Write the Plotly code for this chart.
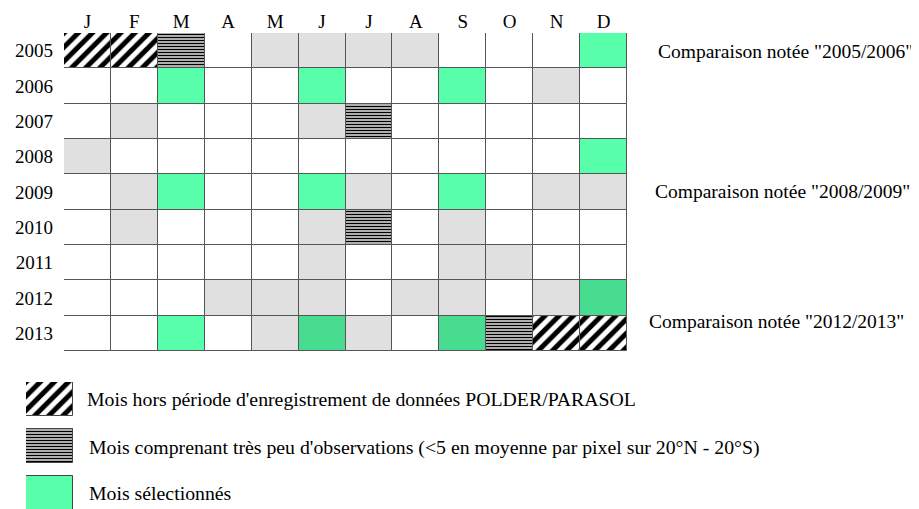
import plotly.graph_objects as go

# The page body has an 8px default margin; the figure is sized/offset to fill the window.
OFF = 8
W, H = 919 - OFF, 509 - OFF

months = ["J", "F", "M", "A", "M", "J", "J", "A", "S", "O", "N", "D"]
years = ["2005", "2006", "2007", "2008", "2009", "2010", "2011", "2012", "2013"]

# Cell status per year (one row per year, one value per month)
# 0 = normal, 1 = grey, 2 = selected, 3 = outside POLDER/PARASOL period,
# 4 = very few observations, 5 = selected (darker)
status = [
    [3, 3, 4, 0, 1, 1, 1, 1, 0, 0, 0, 2],  # 2005
    [0, 0, 2, 0, 0, 2, 0, 0, 2, 0, 1, 0],  # 2006
    [0, 1, 0, 0, 0, 1, 4, 0, 0, 0, 0, 0],  # 2007
    [1, 0, 0, 0, 0, 0, 0, 0, 0, 0, 0, 2],  # 2008
    [0, 1, 2, 0, 0, 2, 1, 0, 2, 0, 1, 1],  # 2009
    [0, 1, 0, 0, 0, 1, 4, 0, 1, 0, 0, 0],  # 2010
    [0, 0, 0, 0, 0, 1, 0, 0, 1, 1, 0, 0],  # 2011
    [0, 0, 0, 1, 1, 1, 0, 1, 1, 0, 1, 5],  # 2012
    [0, 0, 2, 0, 1, 5, 1, 0, 5, 4, 3, 3],  # 2013
]

comparisons = ['Comparaison notée "2005/2006"', 'Comparaison notée "2008/2009"',
               'Comparaison notée "2012/2013"']
legend_labels = [
    "Mois hors période d'enregistrement de données POLDER/PARASOL",
    "Mois comprenant très peu d'observations (<5 en moyenne par pixel sur 20°N - 20°S)",
    "Mois sélectionnés",
]
legend_codes = [3, 4, 2]

GREEN = "#58FFAA"
DKGREEN = "#48DC90"
GREY = "#E0E0E0"
LINE = "#555555"

styles = {
    0: dict(color="white"),
    1: dict(color=GREY),
    2: dict(color=GREEN),
    5: dict(color=DKGREEN),
    3: dict(color="white", pattern=dict(shape="/", fgcolor="black", bgcolor="white",
                                        size=10, solidity=0.5, fillmode="replace",
                                        fgopacity=1)),
    4: dict(color="white", pattern=dict(shape="-", fgcolor="black", bgcolor="#e8e8e8",
                                        size=3, solidity=0.5, fillmode="replace",
                                        fgopacity=1)),
}

fig = go.Figure()

for code in [0, 1, 2, 5, 3, 4]:
    xs, bases = [], []
    for r, row in enumerate(status):
        for c, v in enumerate(row):
            if v == code:
                xs.append(c)
                bases.append(r - 0.5)
    if not xs:
        continue
    fig.add_trace(go.Bar(
        x=xs, y=[1] * len(xs), base=bases, width=1,
        marker=dict(**styles[code], line=dict(color=LINE, width=1)),
        showlegend=False, hoverinfo="skip", xaxis="x", yaxis="y"))

# legend icons
icon_h = 34 / 47
for i, code in enumerate(legend_codes):
    fig.add_trace(go.Bar(
        x=[0], y=[icon_h], base=[i], width=1,
        marker=dict(**styles[code], line=dict(color="#444444", width=1)),
        showlegend=False, hoverinfo="skip", xaxis="x2", yaxis="y2"))


def px_x(p):
    return (p - OFF) / W


def px_y(p):
    return 1 - (p - OFF) / H


fig.update_layout(
    width=W, height=H,
    margin=dict(l=0, r=0, t=0, b=0),
    paper_bgcolor="white", plot_bgcolor="white",
    barmode="overlay", bargap=0,
    showlegend=False,
    xaxis=dict(domain=[px_x(64), px_x(627)], range=[-0.5, 11.5],
               tickmode="array", tickvals=list(range(12)), ticktext=months,
               side="top", showgrid=False, zeroline=False, ticks="",
               ticklabelstandoff=0,
               tickfont=dict(family="Liberation Serif", size=19, color="black"),
               fixedrange=True, anchor="y"),
    yaxis=dict(domain=[px_y(351), px_y(33)], range=[8.5, -0.5],
               tickmode="array", tickvals=list(range(9)), ticktext=years,
               showgrid=False, zeroline=False, ticks="",
               ticklabelstandoff=10,
               tickfont=dict(family="Liberation Serif", size=19, color="black"),
               fixedrange=True, anchor="x"),
    xaxis2=dict(domain=[px_x(26), px_x(73)], range=[-0.5, 0.5], visible=False,
                anchor="y2", fixedrange=True),
    yaxis2=dict(domain=[0, px_y(382)], range=[(509 - 382) / 47, 0], visible=False,
                anchor="x2", fixedrange=True),
)

comp_pos = [(785, 52), (782, 191), (776, 321)]
for txt, (cx, cy) in zip(comparisons, comp_pos):
    fig.add_annotation(text=txt, x=px_x(cx), y=px_y(cy), xref="paper", yref="paper",
                       xanchor="center", yanchor="middle", showarrow=False,
                       font=dict(family="Liberation Serif", size=19.5, color="black"))

leg_pos = [(85, 399), (87, 447), (87, 493)]
for txt, (lx, ly) in zip(legend_labels, leg_pos):
    fig.add_annotation(text=txt, x=px_x(lx), y=px_y(ly), xref="paper", yref="paper",
                       xanchor="left", yanchor="middle", showarrow=False,
                       font=dict(family="Liberation Serif", size=19.8, color="black"))

fig.write_html("out.html")
